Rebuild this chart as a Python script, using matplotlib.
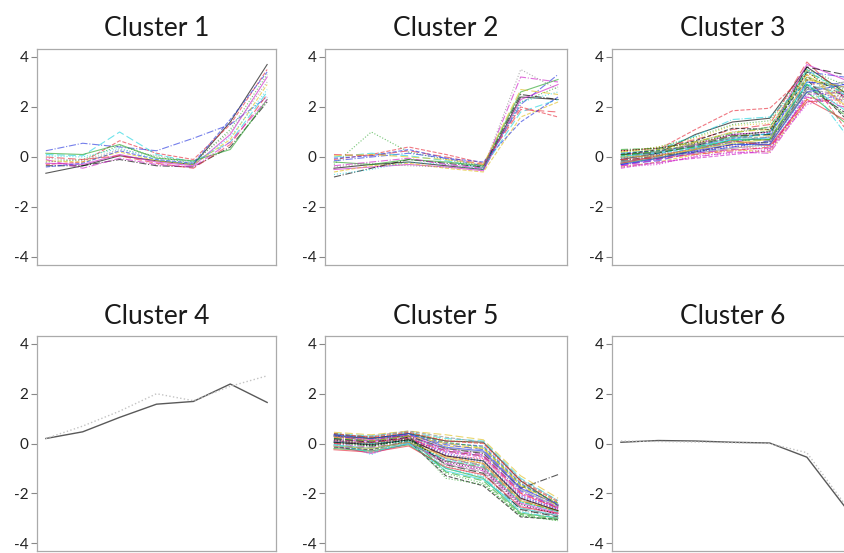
import matplotlib
matplotlib.use("Agg")
import matplotlib.pyplot as plt

plt.rcParams['font.family'] = ['Lato', 'DejaVu Sans']

# time points shared by every cluster profile
timepoints = [1, 2, 3, 4, 5, 6, 7]

titles = ["Cluster 1", "Cluster 2", "Cluster 3", "Cluster 4", "Cluster 5", "Cluster 6"]
yticks = [-4, -2, 0, 2, 4]

cluster1 = [
    [-0.65, -0.35, 0.05, -0.15, -0.30, 1.40, 3.70],
    [-0.30, -0.20, 0.65, 0.15, -0.10, 1.30, 3.50],
    [-0.20, -0.10, 0.45, 0.00, -0.25, 1.10, 3.30],
    [0.25, 0.55, 0.40, 0.25, 0.75, 1.30, 2.40],
    [0.10, 0.05, 1.00, 0.10, -0.20, 0.60, 2.60],
    [-0.25, -0.30, 0.10, -0.20, -0.35, 0.90, 3.20],
    [-0.15, -0.20, 0.20, -0.15, -0.30, 0.70, 2.90],
    [-0.05, -0.15, 0.30, 0.05, -0.20, 1.00, 3.00],
    [-0.35, -0.35, -0.10, -0.35, -0.40, 0.40, 2.20],
    [0.00, -0.10, 0.05, -0.25, -0.45, 0.50, 2.50],
    [0.15, 0.10, 0.50, -0.05, -0.15, 0.30, 2.30],
    [-0.40, -0.25, 0.25, -0.10, -0.25, 1.50, 3.40],
    [0.05, 0.00, 0.35, -0.10, -0.30, 0.80, 2.70],
    [-0.10, -0.45, -0.05, -0.30, -0.40, 0.60, 2.30],
]

cluster2 = [
    [-0.45, -0.30, -0.20, -0.35, -0.50, 2.40, 2.30],
    [-0.10, 0.10, 0.40, 0.10, -0.25, 2.00, 1.60],
    [-0.30, 1.00, 0.20, -0.10, -0.40, 2.20, 2.80],
    [-0.15, 0.00, 0.15, -0.05, -0.35, 2.10, 3.30],
    [0.00, 0.15, 0.05, -0.15, -0.45, 1.80, 2.30],
    [-0.50, -0.40, -0.30, -0.40, -0.55, 2.30, 2.90],
    [-0.60, -0.35, -0.25, -0.45, -0.60, 1.60, 2.20],
    [-0.40, -0.25, -0.35, -0.40, -0.45, 3.50, 2.70],
    [-0.80, -0.45, -0.10, -0.25, -0.40, 2.50, 2.30],
    [0.10, 0.05, 0.25, 0.00, -0.30, 1.90, 1.80],
    [-0.20, -0.30, -0.10, -0.20, -0.35, 2.60, 3.10],
    [-0.05, 0.05, 0.30, -0.05, -0.20, 1.40, 2.40],
    [-0.70, -0.50, -0.20, -0.30, -0.50, 2.20, 2.60],
    [-0.35, -0.20, -0.05, -0.30, -0.45, 3.20, 3.00],
    [0.05, 0.10, 0.00, -0.10, -0.30, 2.70, 2.50],
]

cluster3 = [
    [-0.10, 0.15, 0.90, 1.40, 1.55, 3.60, 2.60],
    [0.05, 0.30, 1.10, 1.85, 1.95, 3.30, 1.20],
    [0.20, 0.40, 0.80, 1.30, 1.45, 3.50, 2.90],
    [-0.30, -0.10, 0.30, 0.60, 0.80, 3.40, 3.20],
    [-0.20, 0.00, 0.40, 0.80, 0.90, 2.90, 2.50],
    [0.10, 0.20, 0.50, 0.90, 1.00, 3.70, 3.10],
    [-0.40, -0.20, 0.10, 0.30, 0.20, 2.30, 2.70],
    [0.00, 0.10, 0.60, 1.00, 1.20, 3.20, 2.20],
    [-0.15, 0.05, 0.20, 0.50, 0.60, 2.80, 1.80],
    [0.25, 0.35, 0.70, 1.10, 1.30, 3.80, 2.40],
    [-0.25, -0.05, 0.30, 0.70, 0.70, 2.60, 1.40],
    [0.15, 0.25, 0.45, 0.75, 0.95, 3.00, 2.80],
    [-0.05, 0.05, 0.35, 0.55, 0.40, 2.50, 2.30],
    [-0.35, -0.25, 0.00, 0.20, 0.15, 2.20, 2.50],
    [0.05, 0.20, 0.55, 0.85, 0.85, 3.50, 2.00],
    [-0.20, 0.00, 0.15, 0.35, 0.50, 2.70, 3.00],
    [0.10, 0.30, 0.65, 1.15, 1.10, 3.10, 1.60],
    [-0.10, 0.10, 0.25, 0.45, 0.30, 2.40, 2.10],
    [0.30, 0.35, 0.60, 0.95, 1.20, 3.40, 2.70],
    [-0.30, -0.15, 0.20, 0.40, 0.65, 3.00, 2.90],
    [0.00, 0.20, 0.40, 0.70, 0.75, 2.90, 1.90],
    [-0.45, -0.20, -0.05, 0.10, 0.25, 2.50, 2.60],
    [0.20, 0.40, 0.75, 1.25, 1.35, 3.30, 2.30],
    [-0.15, -0.05, 0.30, 0.60, 0.55, 2.60, 2.40],
    [0.10, 0.15, 0.45, 0.85, 0.90, 3.60, 3.30],
    [-0.25, 0.05, 0.35, 0.65, 0.45, 2.30, 1.50],
    [0.05, 0.25, 0.50, 0.80, 1.05, 3.20, 2.60],
    [-0.05, 0.10, 0.20, 0.40, 0.60, 2.80, 2.20],
    [0.15, 0.30, 0.85, 1.50, 1.60, 3.00, 1.00],
    [-0.35, -0.10, 0.15, 0.30, 0.35, 2.40, 2.00],
    [0.00, 0.05, 0.30, 0.55, 0.70, 3.10, 2.80],
    [-0.20, 0.10, 0.45, 0.75, 0.80, 2.70, 2.50],
    [0.25, 0.35, 0.55, 0.90, 1.00, 3.40, 2.40],
    [-0.10, -0.05, 0.10, 0.25, 0.40, 2.20, 2.30],
    [0.10, 0.20, 0.40, 0.65, 0.70, 2.90, 1.70],
    [-0.30, -0.05, 0.25, 0.50, 0.50, 2.60, 2.90],
    [0.05, 0.15, 0.35, 0.70, 0.95, 3.50, 2.50],
    [-0.40, -0.30, 0.05, 0.15, 0.30, 2.10, 2.40],
    [0.20, 0.30, 0.60, 1.00, 1.10, 3.30, 2.10],
    [-0.05, 0.20, 0.50, 0.85, 0.65, 2.80, 2.60],
]

cluster4 = [
    [0.20, 0.47, 1.05, 1.58, 1.69, 2.39, 1.65],
    [0.20, 0.70, 1.30, 2.00, 1.72, 2.30, 2.72],
]

cluster5 = [
    [0.30, 0.20, 0.40, 0.10, 0.05, -1.50, -2.50],
    [0.10, 0.00, 0.20, -0.50, -0.80, -2.20, -2.70],
    [0.00, -0.10, 0.10, -1.20, -1.60, -2.90, -3.10],
    [0.20, 0.10, 0.30, -0.30, -0.50, -1.90, -2.60],
    [0.40, 0.30, 0.45, 0.20, 0.10, -1.40, -2.30],
    [-0.10, -0.40, 0.00, -0.70, -1.00, -2.40, -2.80],
    [0.25, 0.15, 0.35, -0.10, -0.20, -1.70, -2.40],
    [0.05, -0.05, 0.15, -0.90, -1.30, -2.70, -2.90],
    [0.35, 0.25, 0.30, -0.20, -0.40, -1.80, -1.25],
    [0.15, 0.05, 0.25, -0.60, -0.90, -2.30, -2.75],
    [-0.20, -0.30, -0.05, -1.00, -1.40, -2.80, -3.00],
    [0.30, 0.10, 0.40, 0.00, -0.10, -1.60, -2.45],
    [0.20, -0.45, 0.20, -0.40, -0.70, -2.10, -2.65],
    [0.00, -0.15, 0.05, -0.80, -1.10, -2.50, -2.85],
    [0.45, 0.35, 0.50, 0.35, 0.15, -1.30, -2.20],
    [0.10, 0.00, 0.25, -0.20, -0.35, -1.85, -2.55],
    [-0.15, -0.25, 0.10, -1.30, -1.70, -2.95, -3.05],
    [0.25, 0.20, 0.30, -0.50, -0.60, -2.00, -2.60],
    [0.05, -0.10, 0.15, -0.70, -0.95, -2.35, -2.70],
    [0.35, 0.05, 0.35, -0.05, -0.25, -1.75, -2.50],
    [-0.05, -0.20, 0.00, -1.10, -1.45, -2.60, -2.90],
    [0.15, 0.10, 0.20, -0.35, -0.55, -2.05, -2.60],
    [0.30, 0.25, 0.45, 0.15, 0.00, -1.55, -2.35],
    [0.00, -0.30, 0.05, -0.60, -0.85, -2.25, -2.75],
    [0.20, 0.05, 0.25, -0.85, -1.20, -2.65, -2.95],
    [-0.25, -0.35, -0.10, -0.95, -1.25, -2.55, -2.80],
    [0.40, 0.20, 0.40, 0.05, -0.15, -1.65, -2.40],
    [0.10, -0.05, 0.20, -0.45, -0.75, -2.15, -2.65],
    [0.05, 0.00, 0.10, -1.00, -1.35, -2.75, -3.00],
    [0.25, 0.15, 0.35, -0.25, -0.45, -1.95, -2.55],
    [-0.10, -0.20, 0.05, -0.55, -0.80, -2.30, -2.70],
    [0.30, 0.30, 0.50, 0.25, 0.05, -1.45, -2.30],
    [0.15, -0.10, 0.15, -0.75, -1.05, -2.45, -2.85],
    [0.00, 0.05, 0.20, -0.30, -0.50, -2.00, -2.60],
    [0.20, 0.10, 0.30, -1.15, -1.50, -2.85, -3.05],
    [0.35, 0.20, 0.40, -0.15, -0.30, -1.80, -2.45],
    [-0.05, -0.35, 0.00, -0.65, -0.90, -2.35, -2.75],
    [0.10, 0.05, 0.25, -0.40, -0.65, -2.10, -2.65],
    [0.25, 0.10, 0.30, 0.00, -0.20, -1.70, -2.50],
    [-0.15, -0.15, 0.05, -0.85, -1.15, -2.60, -2.90],
    [0.05, -0.05, 0.15, -0.50, -0.70, -2.20, -2.70],
    [0.40, 0.25, 0.45, 0.10, 0.00, -1.50, -2.35],
    [0.15, 0.00, 0.20, -1.40, -1.65, -2.90, -3.10],
]

cluster6 = [
    [0.05, 0.12, 0.10, 0.05, 0.02, -0.55, -2.50],
    [0.10, 0.08, 0.06, 0.03, 0.00, -0.37, -2.40],
]

clusters = [cluster1, cluster2, cluster3, cluster4, cluster5, cluster6]

# line colours and dash patterns cycle through the members of a cluster
palette = ["#000000", "#e8303f", "#2aa52a", "#2b3be0", "#22d5e0", "#d020c8", "#e0c020", "#888888"]
dashes = ["-", "--", ":", "-.", (0, (7, 3))]
gray_colors = ["#505050", "#c0c0c0"]
gray_dashes = ["-", ":"]

W, H = 844, 553
fig = plt.figure(figsize=(W / 100, H / 100), dpi=100)
fig.patch.set_facecolor("white")

col_px = [(37, 276), (325, 567), (612, 853)]
row_px = [(49, 265), (336, 551)]

for k, data in enumerate(clusters):
    r, c = divmod(k, 3)
    x0, x1 = col_px[c]
    t0, b0 = row_px[r]
    ax = fig.add_axes([x0 / W, 1 - b0 / H, (x1 - x0) / W, (b0 - t0) / H])
    few = len(data) <= 2
    for i, series in enumerate(data):
        if few:
            col = gray_colors[i]
            ls = gray_dashes[i]
            alpha = 0.95
            lw = 1.0
        else:
            col = palette[i % len(palette)]
            ls = dashes[i % len(dashes)]
            alpha = 0.65
            lw = 0.8
        ax.plot(timepoints, series, color=col, linestyle=ls, linewidth=lw, alpha=alpha)
    ax.set_xlim(0.76, 7.24)
    ax.set_ylim(-4.32, 4.32)
    ax.set_xticks([])
    ax.set_yticks(yticks)
    ax.set_yticklabels([str(v) for v in yticks])
    ax.tick_params(axis="y", length=4, width=0.8, color="#888888", labelsize=11,
                   labelcolor="#222222", pad=2)
    for s in ax.spines.values():
        s.set_color("#aaaaaa")
        s.set_linewidth(0.9)
    ax.set_title(titles[k], fontsize=19, color="#1a1a1a", pad=9)

fig.savefig("out.png", dpi=100, facecolor="white")
